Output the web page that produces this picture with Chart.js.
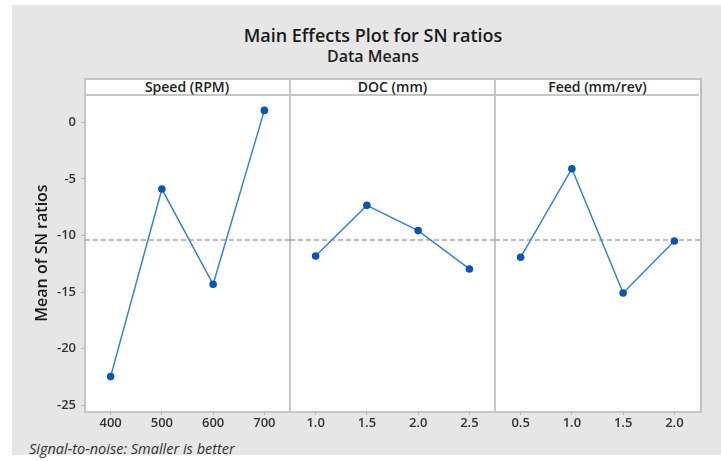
<!DOCTYPE html>
<html>
<head>
<meta charset="utf-8">
<script src="https://cdn.jsdelivr.net/npm/chart.js@4"></script>
<style>
  html, body { margin: 0; padding: 0; background: #ffffff; width: 721px; height: 461px; overflow: hidden; font-family: 'Open Sans', sans-serif; }
  #bg { position: absolute; left: 12px; top: 5px; width: 709px; height: 450px; background: #e6e6e6; }
  .abs { position: absolute; }
  #frame { left: 84px; top: 78px; width: 614px; height: 331px; background: #ffffff; border: 2px solid #c6c6c6; border-right-color: #bfbfbf; }
  .hline { height: 2px; background: #c6c6c6; }
  .vline { width: 2px; background: #c6c6c6; }
  .strip { top: 79px; height: 16px; line-height: 16px; text-align: center; font-size: 14px; font-weight: 600; color: #222; }
  #title { left: 123px; width: 500px; top: 22px; line-height: 26px; text-align: center; font-size: 18px; font-weight: 600; color: #1a1a1a; }
  #subtitle { left: 173px; width: 400px; top: 46px; line-height: 21px; text-align: center; font-size: 16px; font-weight: 600; color: #222; }
  #foot { left: 29px; top: 439px; line-height: 20px; font-size: 14.5px; font-style: italic; color: #333; }
  canvas { position: absolute; }
</style>
</head>
<body>
<div id="bg"></div>
<div id="frame" class="abs"></div>
<div class="abs hline" style="left:85px; top:94px; width:614px;"></div>
<div class="abs vline" style="left:289px; top:79px; height:332px;"></div>
<div class="abs vline" style="left:494px; top:79px; height:332px;"></div>
<div class="abs strip" style="left:85px; width:204px;">Speed (RPM)</div>
<div class="abs strip" style="left:291px; width:203px;">DOC (mm)</div>
<div class="abs strip" style="left:496px; width:203px;">Feed (mm/rev)</div>
<div id="title" class="abs">Main Effects Plot for SN ratios</div>
<div id="subtitle" class="abs">Data Means</div>
<div id="foot" class="abs">Signal-to-noise: Smaller is better</div>
<canvas id="c0" width="278" height="346" style="left:12px; top:95px;"></canvas>
<canvas id="c1" width="205" height="346" style="left:290px; top:95px;"></canvas>
<canvas id="c2" width="205" height="346" style="left:495px; top:95px;"></canvas>
<script>
// ---- data ----
const speedLevels = ['400', '500', '600', '700'];
const speedSN = [-22.46, -5.89, -14.30, 1.06];
const docLevels = ['1.0', '1.5', '2.0', '2.5'];
const docSN = [-11.80, -7.33, -9.56, -12.95];
const feedLevels = ['0.5', '1.0', '1.5', '2.0'];
const feedSN = [-11.92, -4.09, -15.07, -10.48];
const yTicks = [-25, -20, -15, -10, -5, 0];
const yMin = -25.5;
const yMax = 2.42;

const allVals = speedSN.concat(docSN, feedSN);
const grandMean = allVals.reduce((a, b) => a + b, 0) / allVals.length;

Chart.defaults.font.family = "'Open Sans', sans-serif";
Chart.defaults.color = '#333';

const meanLine = {
  id: 'meanLine',
  beforeDatasetsDraw(chart) {
    const { ctx, chartArea, scales } = chart;
    const y = scales.y.getPixelForValue(grandMean);
    ctx.save();
    ctx.strokeStyle = '#a6a6a6';
    ctx.lineWidth = 1.5;
    ctx.setLineDash([5, 3]);
    ctx.beginPath();
    ctx.moveTo(chartArea.left, y);
    ctx.lineTo(chartArea.right, y);
    ctx.stroke();
    ctx.restore();
  }
};

function makeChart(id, labels, values, showY) {
  return new Chart(document.getElementById(id), {
    type: 'line',
    data: {
      labels: labels,
      datasets: [{
        data: values,
        borderColor: '#3b80cf',
        borderWidth: 1.5,
        pointBackgroundColor: '#0b55ae',
        pointBorderColor: '#0b55ae',
        pointBorderWidth: 0,
        pointRadius: 3.8,
        tension: 0,
        clip: false
      }]
    },
    options: {
      responsive: false,
      animation: false,
      devicePixelRatio: 1,
      layout: { padding: 0, autoPadding: false },
      plugins: { legend: { display: false }, tooltip: { enabled: false } },
      scales: {
        x: {
          type: 'category',
          offset: true,
          border: { display: false },
          grid: { display: true, drawOnChartArea: false, drawTicks: true, tickLength: 4, color: '#b5b5b5', offset: false },
          ticks: { padding: 0, font: { size: 13, weight: '600' }, color: '#333', maxRotation: 0 },
          afterFit(scale) { scale.height = 30; scale.paddingLeft = 0; scale.paddingRight = 0; }
        },
        y: {
          display: showY,
          min: yMin,
          max: yMax,
          border: { display: false },
          grid: { display: true, drawOnChartArea: false, drawTicks: true, tickLength: 4, color: '#b5b5b5' },
          afterBuildTicks(scale) { scale.ticks = yTicks.map(v => ({ value: v })); },
          ticks: { padding: 5, font: { size: 13, weight: '600' }, color: '#333' },
          title: {
            display: showY,
            text: 'Mean of SN ratios',
            font: { size: 16, weight: '600' },
            color: '#1a1a1a',
            padding: { top: 21, bottom: 0 }
          },
          afterFit(scale) {
            if (showY) scale.width = 73;
            scale.paddingTop = 0;
            scale.paddingBottom = 0;
          }
        }
      }
    },
    plugins: [meanLine]
  });
}

makeChart('c0', speedLevels, speedSN, true);
makeChart('c1', docLevels, docSN, false);
makeChart('c2', feedLevels, feedSN, false);
</script>
</body>
</html>
